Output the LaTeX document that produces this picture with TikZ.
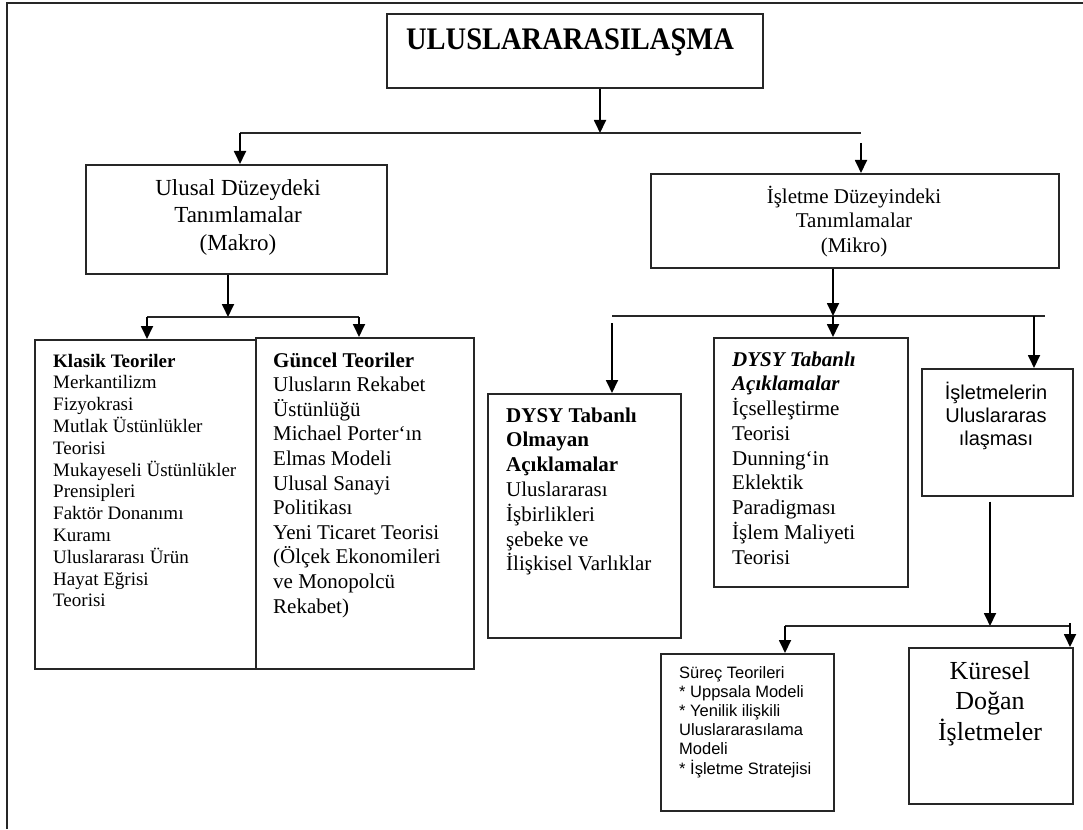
\documentclass[tikz,border=0pt]{standalone}
\usepackage{fontspec}
\usepackage{graphicx}
\setmainfont{Liberation Serif}
\setsansfont{Liberation Sans}
\usetikzlibrary{arrows.meta}

% stacked lines whose baseline is the first line
\newcommand\Lstack[1]{\vtop{\halign{##\hfil\cr#1\crcr}}}
\newcommand\Cstack[1]{\vtop{\halign{\hfil##\hfil\cr#1\crcr}}}

\begin{document}
\begin{tikzpicture}[x=1pt,y=-1pt,
  box/.style={draw=black!85, line width=1.6pt, rectangle, inner sep=0pt, anchor=north west},
  txt/.style={inner sep=0pt, anchor=base west},
  ctxt/.style={inner sep=0pt, anchor=base},
  arr/.style={draw=black, line width=1.8pt, -{Triangle[length=13pt,width=12pt]}},
  ln/.style={draw=black!85, line width=1.5pt},
  frame/.style={draw=black!85, line width=2pt}]
\useasboundingbox (0,0) rectangle (1083,829);

% page frame
\draw[frame] (7,829) -- (7,3) -- (1083,3);

% boxes
\node[box, minimum width=376pt, minimum height=74pt] (title) at (386,13) {};
\node[box, minimum width=301pt, minimum height=109pt] (ulusal) at (85,164) {};
\node[box, minimum width=408pt, minimum height=94pt] (isletme) at (650,173) {};
\node[box, minimum width=221pt, minimum height=329pt] (klasik) at (34,339) {};
\node[box, minimum width=218pt, minimum height=331pt] (guncel) at (255,337) {};
\node[box, minimum width=193pt, minimum height=244pt] (dysyo) at (487,393) {};
\node[box, minimum width=194pt, minimum height=249pt] (dysy) at (713,337) {};
\node[box, minimum width=151pt, minimum height=127pt] (isint) at (921,368) {};
\node[box, minimum width=173pt, minimum height=157pt] (surec) at (660,653) {};
\node[box, minimum width=164pt, minimum height=156pt] (kuresel) at (908,647) {};

% texts
\node[ctxt, font=\fontsize{28.5}{32}\selectfont\bfseries] (titletxt) at (570,50)
  {\scalebox{1}[1.1]{ULUSLARARASILAŞMA}};
\node[ctxt, font=\fontsize{23}{27.5}\selectfont] (ulusaltxt) at (238,195)
  {\Cstack{Ulusal Düzeydeki\cr Tanımlamalar\cr (Makro)}};
\node[ctxt, font=\fontsize{21}{24.5}\selectfont] (isletmetxt) at (854,203)
  {\Cstack{İşletme Düzeyindeki\cr Tanımlamalar\cr (Mikro)}};
\node[txt, font=\fontsize{19}{21.8}\selectfont] (klasiktxt) at (53,367)
  {\Lstack{{\bfseries Klasik Teoriler}\cr
  Merkantilizm\cr
  Fizyokrasi\cr
  Mutlak Üstünlükler\cr
  Teorisi\cr
  Mukayeseli Üstünlükler\cr
  Prensipleri\cr
  Faktör Donanımı\cr
  Kuramı\cr
  Uluslararası Ürün\cr
  Hayat Eğrisi\cr
  Teorisi}};
\node[txt, font=\fontsize{21}{24.6}\selectfont] (guncceltxt) at (273,367)
  {\Lstack{{\bfseries Güncel Teoriler}\cr
  Ulusların Rekabet\cr
  Üstünlüğü\cr
  Michael Porter‘ın\cr
  Elmas Modeli\cr
  Ulusal Sanayi\cr
  Politikası\cr
  Yeni Ticaret Teorisi\cr
  (Ölçek Ekonomileri\cr
  ve Monopolcü\cr
  Rekabet)}};
\node[txt, font=\fontsize{21}{24.8}\selectfont] (dysyotxt) at (506,422)
  {\Lstack{{\bfseries DYSY Tabanlı}\cr
  {\bfseries Olmayan}\cr
  {\bfseries Açıklamalar}\cr
  Uluslararası\cr
  İşbirlikleri\cr
  şebeke ve\cr
  İlişkisel Varlıklar}};
\node[txt, font=\fontsize{21}{24.75}\selectfont] (dysytxt) at (732,366)
  {\Lstack{{\bfseries\itshape DYSY Tabanlı}\cr
  {\bfseries\itshape Açıklamalar}\cr
  İçselleştirme\cr
  Teorisi\cr
  Dunning‘in\cr
  Eklektik\cr
  Paradigması\cr
  İşlem Maliyeti\cr
  Teorisi}};
\node[ctxt, font=\sffamily\fontsize{20}{23}\selectfont] (isinttxt) at (996,399)
  {\Cstack{İşletmelerin\cr Uluslararas\cr ılaşması}};
\node[txt, font=\sffamily\fontsize{16.5}{19.2}\selectfont] (surectxt) at (679,678)
  {\Lstack{Süreç Teorileri\cr
  * Uppsala Modeli\cr
  * Yenilik ilişkili\cr
  Uluslararasılama\cr
  Modeli\cr
  * İşletme Stratejisi}};
\node[ctxt, font=\fontsize{26}{30.5}\selectfont] (kureseltxt) at (990,679)
  {\Cstack{Küresel\cr Doğan\cr İşletmeler}};

% branching points
\coordinate (b1L) at (240,133);
\coordinate (b1M) at (600,133);
\coordinate (b1R) at (861,133);
\coordinate (b2L) at (147,317);
\coordinate (b2M) at (228,317);
\coordinate (b2R) at (359,317);
\coordinate (b3L) at (612,316);
\coordinate (b3M) at (833,316);
\coordinate (b3D) at (1034,316);
\coordinate (b3R) at (1045,316);
\coordinate (b4L) at (785,626);
\coordinate (b4M) at (990,626);
\coordinate (b4R) at (1070,626);

% top level
\draw[arr] (title.south -| b1M) -- (b1M);
\draw[ln] (b1L) -- (b1R);
\draw[arr] (b1L) -- (b1L |- ulusal.north);
\draw[arr] ([yshift=-10pt]b1R) -- (b1R |- isletme.north);

% macro branch
\draw[arr] (ulusal.south -| b2M) -- (b2M);
\draw[ln] (b2L) -- (b2R);
\draw[arr] (b2L) -- (b2L |- klasik.north);
\draw[arr] (b2R) -- (b2R |- guncel.north);

% micro branch
\draw[arr] (isletme.south -| b3M) -- (b3M);
\draw[ln] (b3L) -- (b3R);
\draw[arr] ([yshift=-7pt]b3L) -- (b3L |- dysyo.north);
\draw[arr] (b3M) -- (b3M |- dysy.north);
\draw[arr] (b3D) -- (b3D |- isint.north);

% firm internationalisation branch
\draw[arr] ([yshift=-5pt]isint.south -| b4M) -- (b4M);
\draw[ln] (b4L) -- (b4R);
\draw[arr] (b4L) -- (b4L |- surec.north);
\draw[arr] ([yshift=3pt]b4R) -- (b4R |- kuresel.north);
\end{tikzpicture}
\end{document}
